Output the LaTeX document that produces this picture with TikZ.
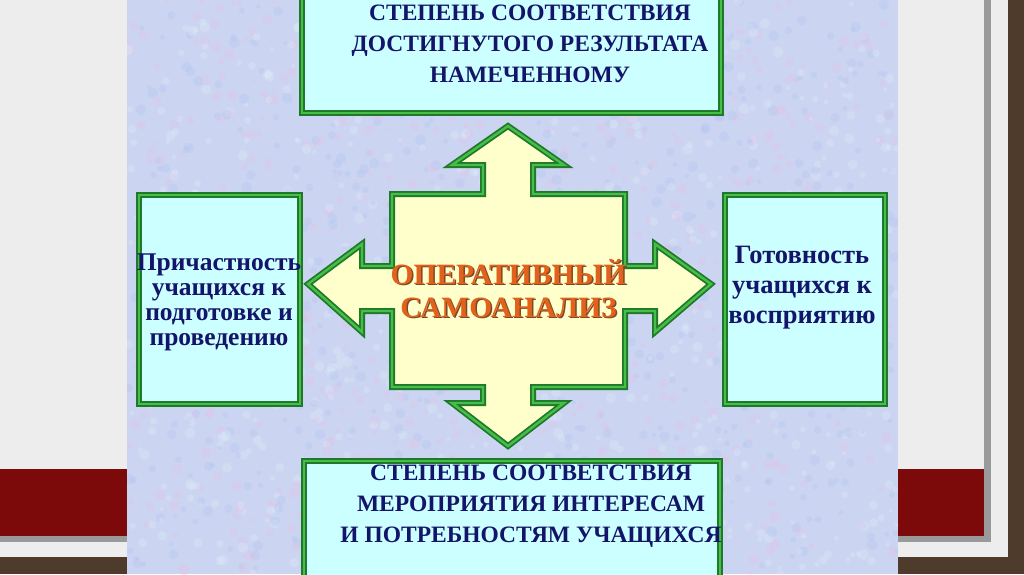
\documentclass[tikz,border=0pt]{standalone}
\usepackage{fontspec}
\setmainfont{Liberation Serif}
\definecolor{brick}{HTML}{4E3B2C}
\definecolor{slide}{HTML}{EDEDED}
\definecolor{band}{HTML}{7C0A0A}
\definecolor{shadowgray}{HTML}{9A9A9A}
\definecolor{panel}{HTML}{CBD4F0}
\definecolor{tpink}{HTML}{E4C4E8}
\definecolor{tblue}{HTML}{B2C6F0}
\definecolor{tlight}{HTML}{DDEBFA}
\definecolor{dgreen}{HTML}{1E7A2A}
\definecolor{lgreen}{HTML}{48BE48}
\definecolor{boxfill}{HTML}{CCFFFF}
\definecolor{yfill}{HTML}{FFFFCC}
\definecolor{navy}{HTML}{14146A}
\definecolor{orng}{HTML}{E2621C}
\definecolor{oshadow}{HTML}{7A4A2A}
\tikzset{
  gbox/.style={fill=boxfill, draw=dgreen, line width=1.8pt, double=lgreen, double distance=2.4pt},
  cross/.style={fill=yfill, draw=dgreen, line width=1.8pt, double=lgreen, double distance=2.4pt, line join=miter},
  btext/.style={text=navy, font=\fontsize{23.5}{31}\selectfont\bfseries, align=center, inner sep=0pt},
  ctext/.style={font=\fontsize{29.5}{33}\selectfont\bfseries, align=center, inner sep=0pt}
}
\begin{document}
\begin{tikzpicture}[x=1pt,y=-1pt]
\useasboundingbox (0,0) rectangle (1024,574);
% backdrop
\fill[brick] (0,0) rectangle (1024,574);
\fill[slide] (0,0) rectangle (1008,557);
\fill[shadowgray] (0,469) rectangle (985,542);
\fill[band] (0,469) rectangle (985,536);
\fill[shadowgray] (984,0) rectangle (991,542);
% panel with fine mottled texture
\fill[panel] (127,0) rectangle (898,574);
\begin{scope}
\clip (127,0) rectangle (898,574);
\pgfmathsetseed{7}
\foreach \i in {1,...,2200}{
  \pgfmathsetmacro{\px}{127+771*rnd}
  \pgfmathsetmacro{\py}{574*rnd}
  \pgfmathsetmacro{\pr}{2+3.5*rnd}
  \pgfmathsetmacro{\pc}{int(3*rnd)}
  \ifcase\pc
    \fill[tpink, opacity=0.35] (\px,\py) circle[radius=\pr];
  \or
    \fill[tblue, opacity=0.35] (\px,\py) circle[radius=\pr];
  \else
    \fill[tlight, opacity=0.35] (\px,\py) circle[radius=\pr];
  \fi
}
\end{scope}
% boxes
\draw[gbox] (302,-12) rectangle (721,113);
\draw[gbox] (139,195) rectangle (300,404);
\draw[gbox] (725,195) rectangle (885,404);
\draw[gbox] (304,461) rectangle (720,590);
% central cross
\draw[cross] (508,126) -- (564,165) -- (533,165) -- (533,194) -- (625,194) -- (625,266)
  -- (655,266) -- (655,244) -- (711,284) -- (655,332) -- (655,311) -- (625,311)
  -- (625,387) -- (533,387) -- (533,403) -- (564,403) -- (508,446) -- (452,403)
  -- (483,403) -- (483,387) -- (392,387) -- (392,311) -- (362,311) -- (362,332)
  -- (308,284) -- (362,244) -- (362,266) -- (392,266) -- (392,194) -- (483,194)
  -- (483,165) -- (452,165) -- cycle;
% texts
\node[btext] (top) at (530,44) {СТЕПЕНЬ СООТВЕТСТВИЯ\\ДОСТИГНУТОГО РЕЗУЛЬТАТА\\НАМЕЧЕННОМУ};
\node[btext, font=\fontsize{25.5}{25}\selectfont\bfseries] (left) at (219,302) {Причастность\\учащихся к\\подготовке и\\проведению};
\node[btext, font=\fontsize{26.5}{30}\selectfont\bfseries] (right) at (802,288) {Готовность\\учащихся к\\восприятию};
\node[btext] (bottom) at (531,506) {СТЕПЕНЬ СООТВЕТСТВИЯ\\МЕРОПРИЯТИЯ ИНТЕРЕСАМ\\И ПОТРЕБНОСТЯМ УЧАЩИХСЯ};
\node[ctext, text=oshadow] (cshadow) at (510,290) {ОПЕРАТИВНЫЙ\\САМОАНАЛИЗ};
\node[ctext, text=orng] (center) at (508.5,288.5) {ОПЕРАТИВНЫЙ\\САМОАНАЛИЗ};
\end{tikzpicture}
\end{document}
